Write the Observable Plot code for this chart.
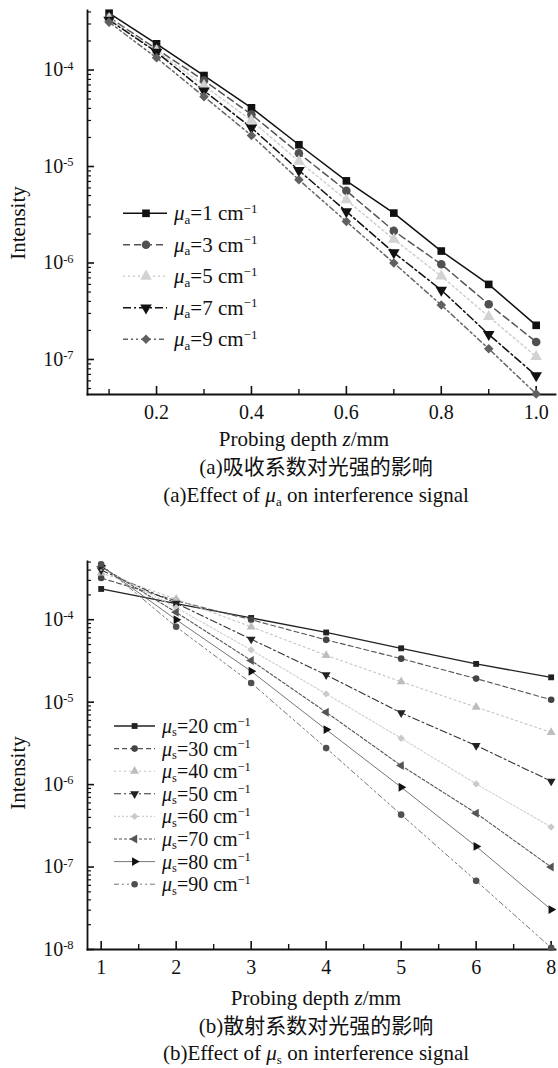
<!DOCTYPE html>
<html><head><meta charset="utf-8">
<script src="https://cdn.jsdelivr.net/npm/d3@7"></script>
<script src="https://cdn.jsdelivr.net/npm/@observablehq/plot@0.6"></script>
<style>
body{margin:0;background:#fff;}
#wrap{position:relative;width:558px;height:1068px;font-family:"Liberation Serif","DejaVu Serif","Times New Roman",serif;color:#111;overflow:hidden;background:#fff}
.abs{position:absolute;white-space:nowrap;line-height:1}
.sub{font-size:0.62em;position:relative;top:0.28em}
.sup{font-size:0.62em;position:relative;top:-0.6em}
.cap{transform:translate(-50%,-50%);font-size:21px}
.cjk{font-family:"Liberation Serif","Noto Sans CJK SC",serif}
</style></head><body><div id="wrap"></div><script>
// ---------- data: chart (a) ----------
const depthA = [0.1,0.2,0.3,0.4,0.5,0.6,0.7,0.8,0.9,1.0];
const muA_1 = [3.88e-4,1.87e-4,8.77e-5,4.06e-5,1.68e-5,7.1e-6,3.29e-6,1.33e-6,6.0e-7,2.26e-7];
const muA_3 = [3.52e-4,1.65e-4,7.8e-5,3.46e-5,1.37e-5,5.6e-6,2.15e-6,9.7e-7,3.73e-7,1.52e-7];
const muA_5 = [3.4e-4,1.58e-4,6.9e-5,3.0e-5,1.13e-5,4.5e-6,1.76e-6,7.3e-7,2.78e-7,1.07e-7];
const muA_7 = [3.3e-4,1.53e-4,6.1e-5,2.52e-5,9.1e-6,3.42e-6,1.28e-6,5.25e-7,1.82e-7,6.8e-8];
const muA_9 = [3.13e-4,1.34e-4,5.3e-5,2.1e-5,7.28e-6,2.69e-6,1.0e-6,3.67e-7,1.29e-7,4.4e-8];
const muA_values = [1,3,5,7,9];
const xTicksA_major = [0.2,0.4,0.6,0.8,1.0];
const xTickLabelsA = ["0.2","0.4","0.6","0.8","1.0"];
const xTicksA_minor = [0.1,0.3,0.5,0.7,0.9];
const yTicksA = [1e-7,1e-6,1e-5,1e-4];
const yTickLabelsA = ["10^-7","10^-6","10^-5","10^-4"];

// ---------- data: chart (b) ----------
const depthB = [1,2,3,4,5,6,7];
const xTickLabelsB = ["1","2","3","4","5","6","8"];
const muS_20 = [2.36e-4,1.57e-4,1.05e-4,7.0e-5,4.5e-5,2.91e-5,2.0e-5];
const muS_30 = [3.2e-4,1.7e-4,1.0e-4,5.7e-5,3.37e-5,1.93e-5,1.07e-5];
const muS_40 = [3.7e-4,1.78e-4,8.2e-5,3.7e-5,1.77e-5,8.7e-6,4.3e-6];
const muS_50 = [4.0e-4,1.58e-4,5.8e-5,2.14e-5,7.4e-6,2.98e-6,1.1e-6];
const muS_60 = [4.3e-4,1.4e-4,4.3e-5,1.26e-5,3.65e-6,1.02e-6,3.05e-7];
const muS_70 = [4.4e-4,1.23e-4,3.2e-5,7.55e-6,1.7e-6,4.5e-7,1.0e-7];
const muS_80 = [4.5e-4,1.0e-4,2.37e-5,4.65e-6,9.3e-7,1.78e-7,3.05e-8];
const muS_90 = [4.7e-4,8.2e-5,1.71e-5,2.77e-6,4.32e-7,6.8e-8,1.05e-8];
const muS_values = [20,30,40,50,60,70,80,90];
const xTicksB_minor = [1.5,2.5,3.5,4.5,5.5,6.5];
const yTicksB = [1e-8,1e-7,1e-6,1e-5,1e-4];
const yTickLabelsB = ["10^-8","10^-7","10^-6","10^-5","10^-4"];

const FONT = '"Liberation Serif","DejaVu Serif","Times New Roman",serif';

// ---------- symbols ----------
function triSym(angle){return {draw(ctx,size){const a=Math.sqrt(size*4/Math.sqrt(3));const h=a*Math.sqrt(3)/2;
  const pts=[[0,-2*h/3],[a/2,h/3],[-a/2,h/3]];const c=Math.cos(angle),s=Math.sin(angle);
  pts.forEach(([x,y],i)=>{const X=x*c-y*s,Y=x*s+y*c;i?ctx.lineTo(X,Y):ctx.moveTo(X,Y);});ctx.closePath();}};}
const symUp=triSym(0),symDown=triSym(Math.PI),symLeft=triSym(-Math.PI/2),symRight=triSym(Math.PI/2);

const seriesA = [
  {v:muA_1, stroke:"#111", dash:null, fill:"#111", sym:d3.symbolSquare},
  {v:muA_3, stroke:"#555", dash:"7,4", fill:"#505050", sym:d3.symbolCircle},
  {v:muA_5, stroke:"#cfcfcf", dash:"2,3", fill:"#d2d2d2", sym:symUp},
  {v:muA_7, stroke:"#111", dash:"8,3,2,3", fill:"#111", sym:symDown},
  {v:muA_9, stroke:"#666", dash:"5,3,2,3,2,3", fill:"#606060", sym:d3.symbolDiamond2}
];
const seriesB = [
  {v:muS_20, stroke:"#222", dash:null, fill:"#222", sym:d3.symbolSquare, w:1.3},
  {v:muS_30, stroke:"#555", dash:"5,3", fill:"#444", sym:d3.symbolCircle, w:1.1},
  {v:muS_40, stroke:"#c4c4c4", dash:"2,3", fill:"#bdbdbd", sym:symUp, w:1.1},
  {v:muS_50, stroke:"#333", dash:"7,3,2,3", fill:"#222", sym:symDown, w:1.1},
  {v:muS_60, stroke:"#cfcfcf", dash:"2,2", fill:"#cacaca", sym:d3.symbolDiamond2, w:1.1},
  {v:muS_70, stroke:"#555", dash:"3,2", fill:"#555", sym:symLeft, w:1.1},
  {v:muS_80, stroke:"#666", dash:null, fill:"#111", sym:symRight, w:0.9},
  {v:muS_90, stroke:"#777", dash:"5,3,2,3,2,3", fill:"#505050", sym:d3.symbolCircle, w:1}
];

function minorLogTicks(domain){const out=[];for(let e=-9;e<=-3;e++)for(let m=2;m<=9;m++){const v=m*Math.pow(10,e);if(v>=domain[0]&&v<=domain[1])out.push(v);}return out;}

function chart({depth, series, xDomain, yDomain, height, marginTop, r, xMajor, xMajorLabels, xMinor, yMajor, yMajorLabels}){
  const marks = [
    Plot.frame({anchor:"left", strokeWidth:1.8, stroke:"#111"}),
    Plot.frame({anchor:"bottom", strokeWidth:1.8, stroke:"#111"}),
    Plot.axisX(xMinor, {tickSize:-5, tickFormat:()=>"", strokeWidth:1.4, label:null}),
    Plot.axisX(xMajor, {tickSize:-8, tickPadding:18, tickFormat:d=>xMajorLabels[xMajor.indexOf(d)], strokeWidth:1.6, label:null, fontSize:20}),
    Plot.axisY(minorLogTicks(yDomain), {tickSize:-4, tickFormat:()=>"", strokeWidth:1.2, label:null}),
    Plot.axisY(yMajor, {tickSize:-7, tickPadding:21, tickFormat:d=>yMajorLabels[yMajor.indexOf(d)], strokeWidth:1.6, label:null, fontSize:20})
  ];
  series.forEach(s=>{
    const data = depth.map((x,i)=>({x, y:s.v[i]}));
    marks.push(Plot.line(data,{x:"x",y:"y",stroke:s.stroke,strokeWidth:s.w||1.5,strokeDasharray:s.dash||undefined}));
  });
  series.forEach(s=>{
    const data = depth.map((x,i)=>({x, y:s.v[i]}));
    marks.push(Plot.dot(data,{x:"x",y:"y",symbol:s.sym,fill:s.fill,stroke:"none",r}));
  });
  const svg = Plot.plot({
    width:558, height, marginTop, marginBottom:30, marginLeft:87, marginRight:3,
    x:{type:"linear", domain:xDomain},
    y:{type:"log", domain:yDomain},
    style:{fontFamily:FONT, fontSize:"20px", color:"#111", background:"transparent", overflow:"visible"},
    marks
  });
  svg.style.fontFamily = FONT;
  svg.querySelectorAll("text").forEach(t=>t.setAttribute("font-family", FONT));
  svg.querySelectorAll('g[aria-label="y-axis tick label"] text').forEach(t=>{
    const s=t.textContent; if(!s.includes("^")) return;
    const [b,e]=s.split("^"); t.textContent=b;
    const ts=document.createElementNS("http://www.w3.org/2000/svg","tspan");
    ts.setAttribute("dy","-0.55em"); ts.setAttribute("font-size","0.62em"); ts.textContent=e; t.appendChild(ts);
  });
  return svg;
}

const wrap = document.getElementById("wrap");
function place(el, left, top){el.style.position="absolute";el.style.left=left+"px";el.style.top=top+"px";wrap.appendChild(el);return el;}

const svgA = chart({depth:depthA, series:seriesA, xDomain:[0.0545,1.0407], yDomain:[Math.pow(10,-7.363),Math.pow(10,-3.383)],
  height:424, marginTop:10, r:4.3, xMajor:xTicksA_major, xMajorLabels:xTickLabelsA, xMinor:xTicksA_minor, yMajor:yTicksA, yMajorLabels:yTickLabelsA});
place(svgA,0,0);
const svgB = chart({depth:depthB, series:seriesB, xDomain:[0.8176,7.058], yDomain:[1e-8,Math.pow(10,-3.294)],
  height:439, marginTop:21, r:3.3, xMajor:depthB, xMajorLabels:xTickLabelsB, xMinor:xTicksB_minor, yMajor:yTicksB, yMajorLabels:yTickLabelsB});
place(svgB,0,540);

// legends
const leg = d3.create("svg").attr("width",558).attr("height",1068).style("position","absolute").style("left","0px").style("top","0px");
function legend(series, values, sub, {y0, step, x1, x2, xm, xt, r, fs}){
  series.forEach((s,i)=>{
    const cy = y0 + i*step;
    leg.append("line").attr("x1",x1).attr("x2",x2).attr("y1",cy).attr("y2",cy).attr("stroke",s.stroke).attr("stroke-width",s.w||1.5).attr("stroke-dasharray",s.dash);
    leg.append("path").attr("d",d3.symbol(s.sym, Math.PI*r*r)()).attr("transform",`translate(${xm},${cy})`).attr("fill",s.fill);
    const d=document.createElement("div"); d.className="abs";
    d.style.fontSize=fs+"px"; d.style.transform="translateY(-50%)";
    d.innerHTML=`<i>μ</i><span class="sub">${sub}</span>=${values[i]} cm<span class="sup">−1</span>`;
    place(d, xt, cy);
  });
}
wrap.appendChild(leg.node());
legend(seriesA, muA_values, "a", {y0:213.3, step:31.5, x1:123, x2:167, xm:146, xt:174, r:4.3, fs:21});
legend(seriesB, muS_values, "s", {y0:726, step:22.6, x1:114, x2:155, xm:134.6, xt:162, r:3.3, fs:20});

// axis titles & captions
function ylab(cy){const d=document.createElement("div");d.className="abs";d.style.fontSize="21px";d.style.transform="translate(-50%,-50%) rotate(-90deg)";d.textContent="Intensity";place(d,18,cy);}
ylab(223); ylab(773);
function cap(html, cx, cy, cls){const d=document.createElement("div");d.className="abs cap "+(cls||"");d.innerHTML=html;place(d,cx,cy);}
cap('Probing depth <i>z</i>/mm',304,439);
cap('(a)吸收系数对光强的影响',316,467,"cjk");
cap('(a)Effect of <i>μ</i><span class="sub">a</span> on interference signal',316,495);
cap('Probing depth <i>z</i>/mm',316,998);
cap('(b)散射系数对光强的影响',316,1026,"cjk");
cap('(b)Effect of <i>μ</i><span class="sub">s</span> on interference signal',316,1053);
</script></body></html>
